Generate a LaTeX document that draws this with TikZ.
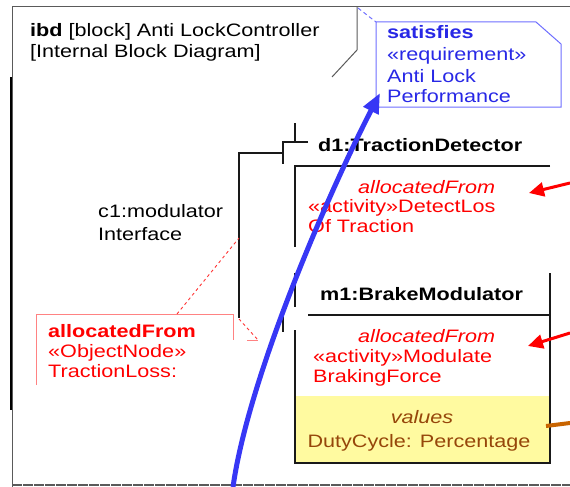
\documentclass[tikz,border=0pt]{standalone}
\usepackage{fontspec}
\setmainfont{Liberation Sans}[FakeStretch=1.2]
\usetikzlibrary{arrows.meta}
\definecolor{bluetxt}{RGB}{40,40,230}
\definecolor{blueline}{RGB}{55,55,245}
\definecolor{bluenote}{RGB}{110,110,255}
\definecolor{redtxt}{RGB}{255,0,0}
\definecolor{pinkline}{RGB}{255,130,130}
\definecolor{yellowfill}{RGB}{255,250,160}
\definecolor{browntxt}{RGB}{150,70,10}
\definecolor{orangeline}{RGB}{200,100,0}
\definecolor{framegray}{RGB}{90,90,90}
\begin{document}
\begin{tikzpicture}[x=1pt,y=-1pt,
  font=\fontsize{18}{21}\selectfont,
  txt/.style={inner sep=0pt, anchor=base west},
  ctxt/.style={inner sep=0pt, anchor=base},
  blk/.style={draw=black!90, line width=1.3pt},
  frm/.style={draw=framegray, line width=1pt},
  rednote/.style={draw=pinkline, line width=0.9pt},
  reddash/.style={draw=redtxt!80, line width=0.9pt, dash pattern=on 3pt off 3pt},
  redarrow/.style={draw=redtxt, line width=3pt, -{Triangle[length=15pt,width=14pt]}},
]
\useasboundingbox (0,0) rectangle (570,487);
% frame
\draw[frm] (12,7) -- (570,7);
\draw[frm] (12,7) -- (12,487);
\draw[draw=black, line width=2pt] (11,77) -- (11,410);
\draw[draw=framegray, line width=1.2pt, dash pattern=on 10pt off 1pt] (12,485) -- (570,485);
\draw[frm] (357,7) -- (357,50) -- (332,77);
% title
\node[txt] (t1) at (30,37) {\textbf{ibd} [block] Anti LockController};
\node[txt] (t2) at (30,58) {[Internal Block Diagram]};
% satisfies note
\fill[white] (376,22) -- (536,22) -- (561,44) -- (561,107) -- (376,107) -- cycle;
\draw[draw=bluenote, line width=1pt] (376,22) -- (536,22) -- (561,44) -- (561,107) -- (376,107) -- cycle;
\draw[draw=bluenote, line width=1pt, dash pattern=on 4pt off 3pt] (358,8) -- (376,22);
\node[txt, text=bluetxt] (s1) at (387,38) {\textbf{satisfies}};
\node[txt, text=bluetxt] (s2) at (387,60) {«requirement»};
\node[txt, text=bluetxt] (s3) at (387,82) {Anti Lock};
\node[txt, text=bluetxt] (s4) at (387,102) {Performance};
% connector c1 and ports
\draw[blk] (283,153) -- (239,153) -- (239,318);
\draw[blk] (308,142) -- (283,142) -- (283,164);
\draw[blk] (295,123) -- (295,142);
\node[txt] (c1a) at (98,217) {c1:modulator};
\node[txt] (c1b) at (98,240) {Interface};
% d1 part
\draw[blk] (550,166) -- (295,166) -- (295,247);
\node[txt] (d1) at (318,151) {\textbf{d1:TractionDetector}};
\node[txt, text=redtxt] (d1a) at (358,193) {\itshape allocatedFrom};
\node[txt, text=redtxt] (d1b) at (308,212) {«activity»DetectLos};
\node[txt, text=redtxt] (d1c) at (308,232) {Of Traction};
% m1 part
\fill[yellowfill] (295,396) rectangle (550,463);
\draw[blk] (295,273) -- (295,307);
\draw[blk] (283,309) -- (283,332);
\draw[blk] (308,315) -- (550,315);
\draw[blk] (295,330) -- (295,463) -- (550,463) -- (550,273);
\node[txt] (m1) at (320,300) {\textbf{m1:BrakeModulator}};
\node[txt, text=redtxt] (m1a) at (358,342) {\itshape allocatedFrom};
\node[txt, text=redtxt] (m1b) at (313,362) {«activity»Modulate};
\node[txt, text=redtxt] (m1c) at (313,382) {BrakingForce};
\node[ctxt, text=browntxt] (v1) at (422,423) {\itshape values};
\node[ctxt, text=browntxt] (v2) at (419,447) {DutyCycle: Percentage};
% allocatedFrom note (left)
\draw[rednote] (36,385) -- (36,314) -- (233,314) -- (233,340);
\draw[reddash] (177,314) -- (239,238);
\draw[reddash] (239,319) -- (258,340);
\draw[rednote] (247,340) -- (258,340);
\node[txt, text=redtxt] (n1) at (48,337) {\textbf{allocatedFrom}};
\node[txt, text=redtxt] (n2) at (48,357) {«ObjectNode»};
\node[txt, text=redtxt] (n3) at (48,377) {TractionLoss:};
% red and orange arrows from the right
\coordinate (r1) at (570,183);
\coordinate (r1t) at (529,193);
\coordinate (r2) at (570,333);
\coordinate (r2t) at (528,346);
\draw[redarrow] (r1) -- (r1t);
\draw[redarrow] (r2) -- (r2t);
\coordinate (o1) at (570,423);
\coordinate (o1t) at (546,426);
\draw[draw=orangeline, line width=4pt] (o1) -- (o1t);
% blue satisfies arrow
\coordinate (b0) at (233,487);
\coordinate (b1) at (380,93);
\draw[draw=blueline, line width=5pt, -{Triangle[length=20pt,width=16pt]}] (b0) .. controls (248,380) and (325,200) .. (b1);
\end{tikzpicture}
\end{document}
